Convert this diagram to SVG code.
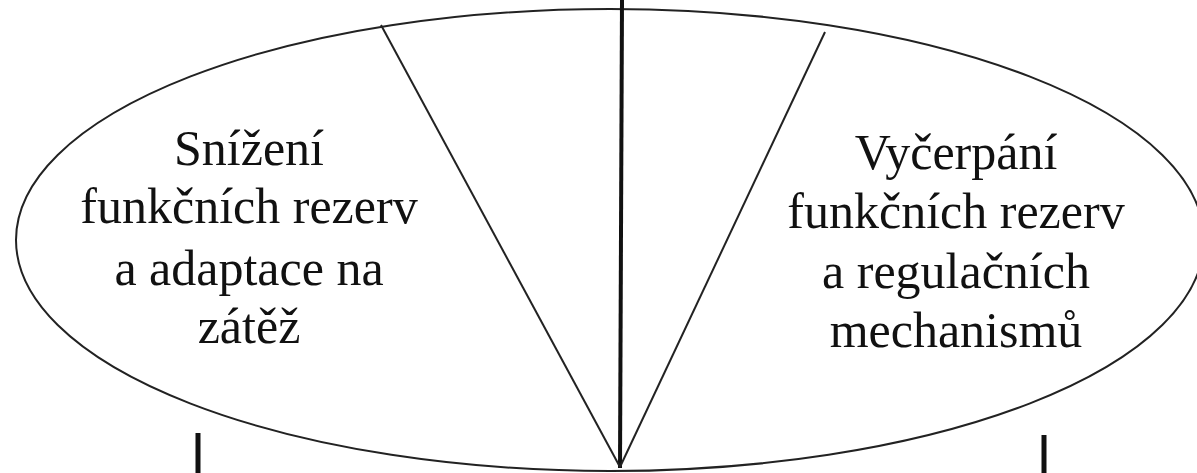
<svg xmlns="http://www.w3.org/2000/svg" width="1197" height="473" viewBox="0 0 1197 473">
<style>
.t{font-family:"Liberation Serif","Times New Roman",serif;font-size:50px;fill:#111;text-anchor:middle}
.thin{stroke:#222;stroke-width:2;fill:none}
.thick{stroke:#111;stroke-width:4;fill:none}
</style>
<rect width="1197" height="473" fill="#fff"/>
<g id="ellipse">
<ellipse cx="610" cy="240" rx="594" ry="231" class="thin"/>
</g>
<g id="connectors">
<line x1="622" y1="0" x2="620" y2="468" class="thick"/>
<line x1="381" y1="25" x2="620" y2="467" class="thin"/>
<line x1="825" y1="32" x2="620" y2="467" class="thin"/>
<line x1="198" y1="433" x2="198" y2="473" class="thick" style="stroke-width:5"/>
<line x1="1044" y1="435" x2="1044" y2="473" class="thick" style="stroke-width:5"/>
</g>
<g id="left-text">
<text class="t" x="249" y="165">Snížení</text>
<text class="t" x="249" y="223">funkčních rezerv</text>
<text class="t" x="249" y="285">a adaptace na</text>
<text class="t" x="249" y="343">zátěž</text>
</g>
<g id="right-text">
<text class="t" x="956" y="169">Vyčerpání</text>
<text class="t" x="956" y="228">funkčních rezerv</text>
<text class="t" x="956" y="288">a regulačních</text>
<text class="t" x="956" y="347">mechanismů</text>
</g>
</svg>
